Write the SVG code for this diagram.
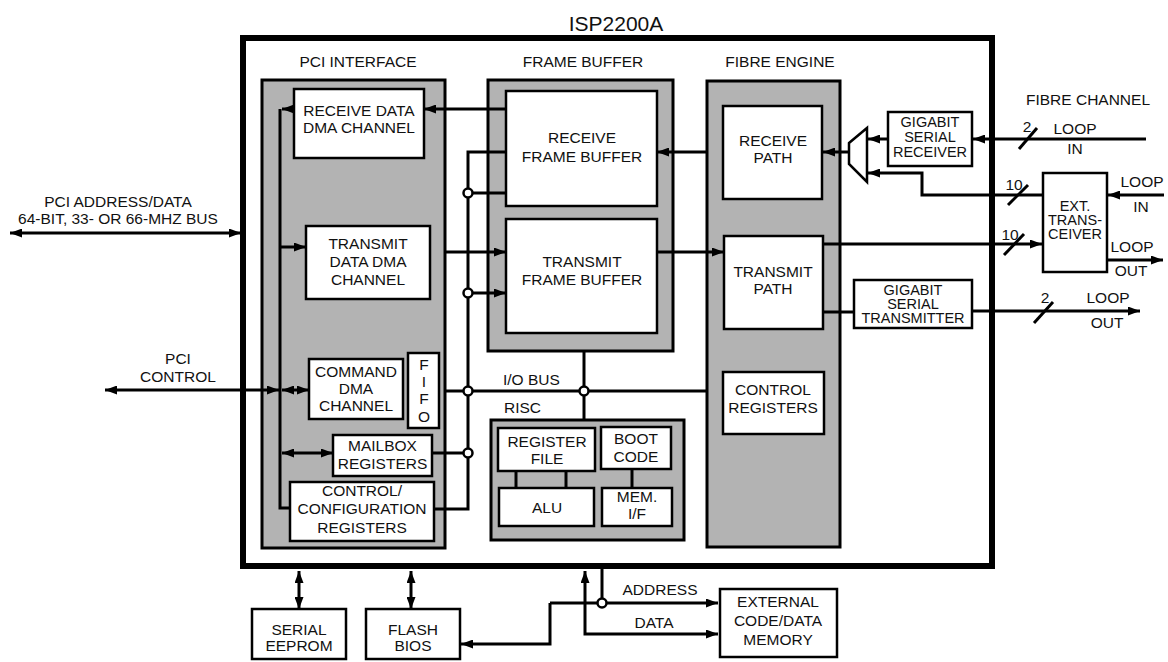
<svg xmlns="http://www.w3.org/2000/svg" width="1168" height="662" viewBox="0 0 1168 662">
<style>
text{font-family:"Liberation Sans",Arial,sans-serif;font-size:15.5px;fill:#111;text-anchor:middle}
.st{text-anchor:start}
.t{font-size:21px}
.tight{font-size:14.5px}
.gray{fill:#b3b3b3;stroke:#000;stroke-width:3}
.box{fill:#fff;stroke:#000;stroke-width:2.5}
.ln{fill:none;stroke:#000;stroke-width:3}
.a{marker-end:url(#ah)}
.aa{marker-start:url(#ah);marker-end:url(#ah)}
.jc{fill:#fff;stroke:#000;stroke-width:2.5}
</style>
<defs>
<marker id="ah" viewBox="0 0 12 9" refX="12" refY="4.5" markerWidth="12" markerHeight="9" markerUnits="userSpaceOnUse" orient="auto-start-reverse"><path d="M0,0 L12,4.5 L0,9 z" fill="#000"/></marker>
</defs>
<rect width="1168" height="662" fill="#fff"/>

<g id="isp2200a">
<rect x="243" y="38" width="749" height="528" fill="#fff" stroke="#000" stroke-width="6"/>
<text class="t" x="616" y="31">ISP2200A</text>
</g>

<g id="pci-interface">
<rect class="gray" x="262" y="80" width="183" height="468"/>
<text x="358" y="67">PCI INTERFACE</text>
</g>
<g id="receive-dma"><rect class="box" x="294" y="89" width="130" height="69"/><text x="359" y="116">RECEIVE DATA</text><text x="359" y="133">DMA CHANNEL</text></g>
<g id="transmit-dma"><rect class="box" x="306" y="226" width="124" height="73"/><text x="368" y="249">TRANSMIT</text><text x="368" y="267">DATA DMA</text><text x="368" y="285">CHANNEL</text></g>
<g id="command-dma"><rect class="box" x="309" y="359" width="94" height="60"/><text x="356" y="377">COMMAND</text><text x="356" y="394">DMA</text><text x="356" y="411">CHANNEL</text></g>
<g id="fifo"><rect class="box" x="408" y="353" width="31" height="75"/><text x="424" y="370">F</text><text x="424" y="387">I</text><text x="424" y="404">F</text><text x="424" y="422">O</text></g>
<g id="mailbox"><rect class="box" x="333" y="435" width="99" height="41"/><text x="382.5" y="451">MAILBOX</text><text x="382.5" y="469">REGISTERS</text></g>
<g id="control-config"><rect class="box" x="290" y="482" width="144" height="59"/><text x="362" y="496">CONTROL/</text><text x="362" y="514">CONFIGURATION</text><text x="362" y="533">REGISTERS</text></g>

<g id="frame-buffer">
<rect class="gray" x="488" y="80" width="185" height="271"/>
<text x="583" y="67">FRAME BUFFER</text>
</g>
<g id="receive-fb"><rect class="box" x="506" y="91" width="151" height="115"/><text x="582" y="143">RECEIVE</text><text x="582" y="162">FRAME BUFFER</text></g>
<g id="transmit-fb"><rect class="box" x="506" y="219" width="151" height="114"/><text x="582" y="267">TRANSMIT</text><text x="582" y="285">FRAME BUFFER</text></g>

<g id="risc">
<rect class="gray" x="491" y="420" width="193" height="120"/>
<text class="st" x="504" y="413">RISC</text>
</g>
<g id="register-file"><rect class="box" x="498" y="428" width="97" height="43"/><text x="547" y="447">REGISTER</text><text x="547" y="464">FILE</text></g>
<g id="boot-code"><rect class="box" x="601" y="427" width="70" height="42"/><text x="636" y="444">BOOT</text><text x="636" y="462">CODE</text></g>
<g id="alu"><rect class="box" x="499" y="488" width="95" height="38"/><text x="547" y="513">ALU</text></g>
<g id="mem-if"><rect class="box" x="602" y="488" width="70" height="38"/><text x="637" y="502">MEM.</text><text x="637" y="519">I/F</text></g>

<g id="fibre-engine">
<rect class="gray" x="707" y="81" width="133" height="466"/>
<text x="780" y="67">FIBRE ENGINE</text>
</g>
<g id="receive-path"><rect class="box" x="723" y="106" width="99" height="93"/><text x="773" y="146">RECEIVE</text><text x="773" y="163">PATH</text></g>
<g id="transmit-path"><rect class="box" x="724" y="236" width="99" height="93"/><text x="773" y="277">TRANSMIT</text><text x="773" y="294">PATH</text></g>
<g id="control-registers"><rect class="box" x="723" y="372" width="101" height="62"/><text x="773" y="395">CONTROL</text><text x="773" y="413">REGISTERS</text></g>

<g id="mux"><polygon points="849,143 867,128 867,182 849,164" fill="#fff" stroke="#000" stroke-width="2.5"/></g>
<g id="gs-receiver"><rect class="box" x="888" y="112" width="84" height="54"/><text class="tight" x="930" y="127">GIGABIT</text><text class="tight" x="930" y="142">SERIAL</text><text class="tight" x="930" y="157">RECEIVER</text></g>
<g id="gs-transmitter"><rect class="box" x="854" y="280" width="118" height="48"/><text class="tight" x="913" y="295">GIGABIT</text><text class="tight" x="913" y="309">SERIAL</text><text class="tight" x="913" y="323">TRANSMITTER</text></g>
<g id="ext-transceiver"><rect class="box" x="1043" y="173" width="64" height="99"/><text class="tight" x="1075" y="211">EXT.</text><text class="tight" x="1075" y="225">TRANS-</text><text class="tight" x="1075" y="239">CEIVER</text></g>

<g id="serial-eeprom"><rect class="box" x="252" y="609" width="94" height="50"/><text x="299" y="635">SERIAL</text><text x="299" y="651">EEPROM</text></g>
<g id="flash-bios"><rect class="box" x="366" y="609" width="94" height="50"/><text x="413" y="635">FLASH</text><text x="413" y="651">BIOS</text></g>
<g id="external-memory"><rect class="box" x="720" y="589" width="117" height="68"/><text x="778" y="607">EXTERNAL</text><text x="778" y="626">CODE/DATA</text><text x="778" y="645">MEMORY</text></g>

<g id="connectors">
<line class="ln aa" x1="10" y1="233" x2="241" y2="233"/>
<line class="ln aa" x1="105" y1="390" x2="279" y2="390"/>
<polyline class="ln" points="280,109 280,508 290,508"/>
<line class="ln a" x1="294" y1="109" x2="282" y2="109"/>
<line class="ln a" x1="280" y1="247" x2="306" y2="247"/>
<line class="ln aa" x1="282" y1="390" x2="309" y2="390"/>
<line class="ln aa" x1="282" y1="453" x2="333" y2="453"/>
<polyline class="ln" points="506,152 468,152 468,509 434,509"/>
<line class="ln a" x1="506" y1="109" x2="424" y2="109"/>
<line class="ln" x1="468" y1="193" x2="506" y2="193"/>
<line class="ln a" x1="445" y1="252" x2="506" y2="252"/>
<line class="ln a" x1="468" y1="293" x2="506" y2="293"/>
<line class="ln" x1="445" y1="391" x2="707" y2="391"/>
<line class="ln" x1="432" y1="453" x2="468" y2="453"/>
<line class="ln" x1="584" y1="351" x2="584" y2="420"/>
<line class="ln" x1="516" y1="471" x2="516" y2="488"/>
<line class="ln" x1="566" y1="471" x2="566" y2="488"/>
<line class="ln" x1="632" y1="469" x2="632" y2="488"/>
<circle class="jc" cx="468" cy="193" r="4.5"/>
<circle class="jc" cx="468" cy="293" r="4.5"/>
<circle class="jc" cx="468" cy="391" r="4.5"/>
<circle class="jc" cx="468" cy="453" r="4.5"/>
<circle class="jc" cx="584" cy="391" r="4.5"/>
<line class="ln a" x1="707" y1="152" x2="657" y2="152"/>
<line class="ln a" x1="657" y1="252" x2="724" y2="252"/>
<line class="ln a" x1="849" y1="152" x2="823" y2="152"/>
<line class="ln a" x1="888" y1="139" x2="868" y2="139"/>
<polyline class="ln a" points="1043,195 922,195 922,173 868,173"/>
<line class="ln a" x1="823" y1="244" x2="1042" y2="244"/>
<line class="ln" x1="823" y1="312" x2="854" y2="312"/>
<line class="ln a" x1="1146" y1="139" x2="973" y2="139"/>
<line class="ln a" x1="1164" y1="195" x2="1108" y2="195"/>
<line class="ln a" x1="1107" y1="260" x2="1163" y2="260"/>
<line class="ln a" x1="972" y1="311" x2="1140" y2="311"/>
<line class="ln" x1="1019" y1="149" x2="1037" y2="128"/>
<line class="ln" x1="1008" y1="205" x2="1028" y2="185"/>
<line class="ln" x1="1004" y1="255" x2="1024" y2="234"/>
<line class="ln" x1="1034" y1="323" x2="1053" y2="302"/>
<line class="ln aa" x1="299" y1="571" x2="299" y2="609"/>
<line class="ln aa" x1="411" y1="571" x2="411" y2="609"/>
<polyline class="ln a" points="550,603 550,644 461,644"/>
<line class="ln a" x1="550" y1="603" x2="718" y2="603"/>
<line class="ln" x1="602" y1="569" x2="602" y2="603"/>
<circle class="jc" cx="602" cy="603" r="4.5"/>
<polyline class="ln aa" points="585,571 585,634 718,634"/>
</g>

<g id="labels">
<text x="118" y="207">PCI ADDRESS/DATA</text>
<text x="118" y="224">64-BIT, 33- OR 66-MHZ BUS</text>
<text x="178" y="364">PCI</text>
<text x="178" y="382">CONTROL</text>
<text class="st" x="503" y="385">I/O BUS</text>
<text x="1088" y="105">FIBRE CHANNEL</text>
<text x="1027" y="132">2</text>
<text x="1075" y="134">LOOP</text>
<text x="1075" y="154">IN</text>
<text x="1014" y="190">10</text>
<text x="1142" y="187">LOOP</text>
<text x="1141" y="212">IN</text>
<text x="1010" y="240">10</text>
<text x="1132" y="252">LOOP</text>
<text x="1131" y="276">OUT</text>
<text x="1045" y="303">2</text>
<text x="1108" y="303">LOOP</text>
<text x="1107" y="328">OUT</text>
<text x="660" y="595">ADDRESS</text>
<text x="654" y="628">DATA</text>
</g>
</svg>
